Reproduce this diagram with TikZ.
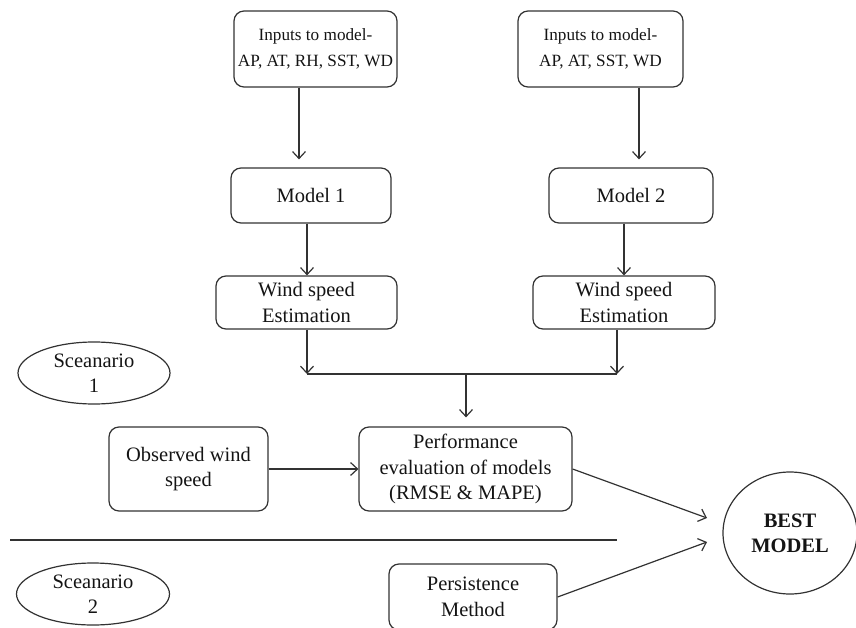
\documentclass[tikz,border=0pt]{standalone}
\usepackage{fontspec}
\setmainfont{Liberation Serif}
\usetikzlibrary{arrows.meta,shapes.geometric}

\definecolor{linecol}{RGB}{50,50,50}
\definecolor{textcol}{RGB}{20,20,20}

\tikzset{
  box/.style={draw=linecol, line width=1.2pt, rounded corners=10pt, align=center,
    inner sep=0pt, text=textcol, font=\fontsize{20.5}{25.5}\selectfont},
  topbox/.style={box, font=\fontsize{17.2}{26}\selectfont},
  oval/.style={draw=linecol, line width=1.2pt, ellipse, align=center, inner sep=0pt,
    text=textcol, font=\fontsize{20.5}{25.5}\selectfont},
  link/.style={draw=linecol, line width=1.2pt},
  arr/.style={link, -{Straight Barb[length=7pt,width=13pt,line width=1.2pt]}},
}

\begin{document}
\begin{tikzpicture}[x=1pt,y=-1pt]
  \useasboundingbox (0,0) rectangle (856,628);

  % input boxes
  \node[topbox, minimum width=163pt, minimum height=76pt] (in1) at (315.5,49)
    {Inputs to model-\\AP, AT, RH, SST, WD};
  \node[topbox, minimum width=165pt, minimum height=76pt] (in2) at (600.5,49)
    {Inputs to model-\\AP, AT, SST, WD};

  % models
  \node[box, minimum width=160pt, minimum height=55pt] (m1) at (311,195.5) {Model 1};
  \node[box, minimum width=164pt, minimum height=55pt] (m2) at (631,195.5) {Model 2};

  % estimations
  \node[box, minimum width=181pt, minimum height=53pt] (w1) at (306.5,302.5)
    {Wind speed\\Estimation};
  \node[box, minimum width=182pt, minimum height=53pt] (w2) at (624,302.5)
    {Wind speed\\Estimation};

  % evaluation row
  \node[box, minimum width=159pt, minimum height=84pt] (obs) at (188.5,469)
    {Observed wind\\speed};
  \node[box, minimum width=213pt, minimum height=84pt] (perf) at (465.5,469)
    {Performance\\evaluation of models\\(RMSE \& MAPE)};
  \node[box, minimum width=168pt, minimum height=66pt] (pers) at (473,597)
    {Persistence\\Method};

  \node[oval, minimum width=134pt, minimum height=122pt,
        font=\fontsize{20.5}{25}\selectfont\bfseries] (best) at (790,533)
    {BEST\\MODEL};

  % scenario labels
  \node[oval, minimum width=152pt, minimum height=62pt] (sc1) at (94,373)
    {Sceanario\\1};
  \node[oval, minimum width=153pt, minimum height=62pt] (sc2) at (93,594)
    {Sceanario\\2};

  % connector guide points
  \coordinate (c1) at (299,0);
  \coordinate (c2) at (639,0);
  \coordinate (c4) at (624,0);
  \coordinate (jl) at (307,374);
  \coordinate (jr) at (617,374);
  \coordinate (jm) at (466,374);
  \coordinate (tipA) at (707,518);
  \coordinate (tipB) at (707,542);
  \coordinate (divL) at (10,540);
  \coordinate (divR) at (617,540);

  % connectors
  \draw[arr, shorten >=8pt] (c1 |- in1.south) -- (c1 |- m1.north);
  \draw[arr, shorten >=8pt] (c2 |- in2.south) -- (c2 |- m2.north);
  \draw[arr] (jl |- m1.south) -- (jl |- w1.north);
  \draw[arr] (c4 |- m2.south) -- (c4 |- w2.north);
  \draw[arr] (jl |- w1.south) -- (jl);
  \draw[arr] (jr |- w2.south) -- (jr);
  \draw[link] (jl) -- (jr);
  \draw[arr, shorten >=9pt] (jm) -- (jm |- perf.north);
  \draw[arr] (obs.east) -- (perf.west);
  \draw[arr] (perf.east) -- (tipA);
  \draw[arr] (pers.east) -- (tipB);

  % scenario divider
  \draw[link] (divL) -- (divR);
\end{tikzpicture}
\end{document}
